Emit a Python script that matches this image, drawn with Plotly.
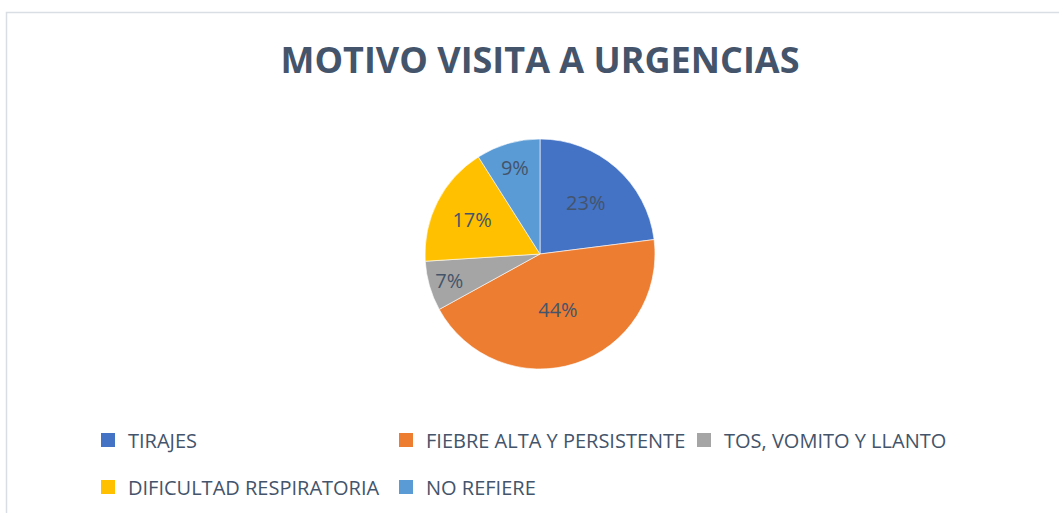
import plotly.graph_objects as go

categories = ["TIRAJES", "FIEBRE ALTA Y PERSISTENTE", "TOS, VOMITO Y LLANTO",
              "DIFICULTAD RESPIRATORIA", "NO REFIERE"]
values = [23, 44, 7, 17, 9]
colors = ["#4472C4", "#ED7D31", "#A5A5A5", "#FFC000", "#5B9BD5"]
legend_rows = ["legend", "legend", "legend", "legend2", "legend2"]
title_text = "MOTIVO VISITA A URGENCIAS"

W, H = 1059, 513
TXT = "#44546A"
FONT = "Open Sans"

fig = go.Figure()
cx, cy, r = 540, 254, 115
fig.add_trace(go.Pie(
    labels=categories, values=values, sort=False, direction="clockwise",
    rotation=0,
    marker=dict(colors=colors, line=dict(color="white", width=0.6)),
    texttemplate="%{percent:.0%}", textposition="inside",
    insidetextorientation="horizontal",
    textfont=dict(family=FONT, size=20, color=TXT),
    showlegend=False, hoverinfo="label+percent",
    domain=dict(x=[(cx - r) / W, (cx + r) / W], y=[1 - (cy + r) / H, 1 - (cy - r) / H]),
))

for name, col, lg in zip(categories, colors, legend_rows):
    fig.add_trace(go.Scatter(
        x=[None], y=[None], mode="markers", name=name,
        marker=dict(symbol="square", size=14, color=col),
        legend=lg, showlegend=True,
    ))

leg_common = dict(orientation="h", xanchor="left", yanchor="middle",
                  font=dict(family=FONT, size=20, color=TXT),
                  entrywidth=253, entrywidthmode="pixels",
                  itemwidth=30, bgcolor="rgba(0,0,0,0)", traceorder="normal")

fig.update_layout(
    width=W, height=H,
    margin=dict(l=0, r=0, t=0, b=0),
    paper_bgcolor="white", plot_bgcolor="white",
    title=dict(text=title_text, x=cx / W, xanchor="center", y=1 - 60 / H,
               yanchor="middle", yref="paper",
               font=dict(family=FONT, size=36, color=TXT, weight=700)),
    xaxis=dict(visible=False), yaxis=dict(visible=False),
    legend=dict(x=88 / W, y=1 - 440 / H, **leg_common),
    legend2=dict(x=88 / W, y=1 - 487 / H, **leg_common),
    shapes=[dict(type="rect", xref="paper", yref="paper",
                 x0=6.5 / W, x1=1.05, y0=-0.05, y1=1 - 12.5 / H,
                 line=dict(color="#D9DEE4", width=1.5), fillcolor="rgba(0,0,0,0)",
                 layer="below")],
)

fig.write_html("out.html", config={"displayModeBar": False},
               post_script="document.body.style.margin='0px';document.body.style.overflow='hidden';")
